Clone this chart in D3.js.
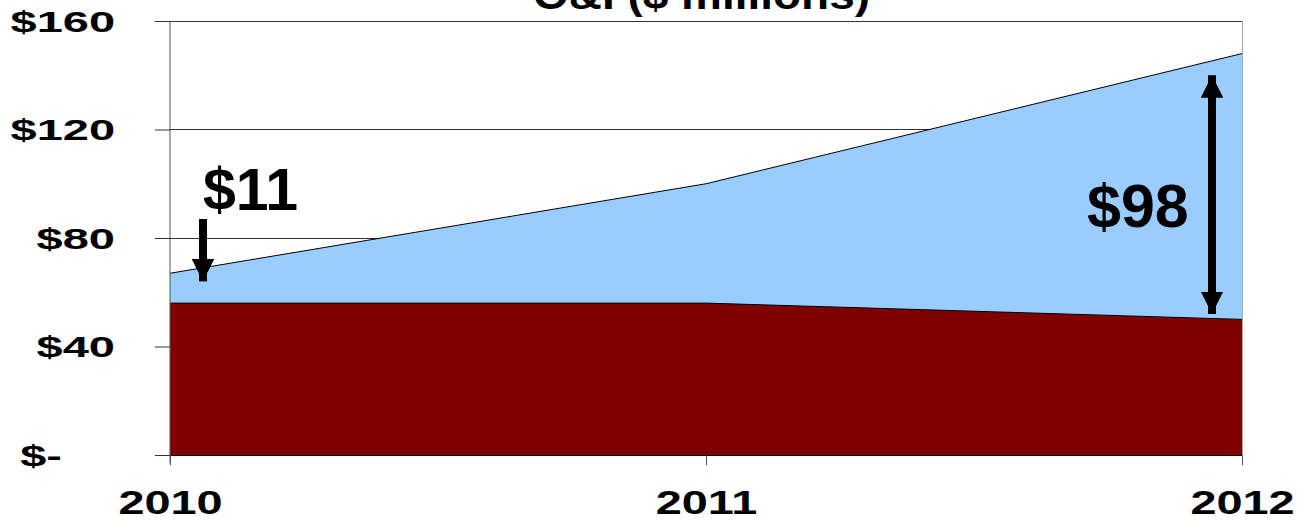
<!DOCTYPE html>
<html>
<head>
<meta charset="utf-8">
<script src="https://cdn.jsdelivr.net/npm/d3@7"></script>
<style>
  html, body { margin: 0; padding: 0; background: #fff; }
  svg { display: block; }
  text { font-family: Arial, "Liberation Sans", sans-serif; font-weight: bold; fill: #000; }
</style>
</head>
<body>
<svg id="chart" width="1297" height="520"></svg>
<script>
// ---- data ----
const title = "O&I ($ millions)";
const years = [2010, 2011, 2012];
const baseSeries = [56, 56, 50];        // maroon
const addedSeries = [11, 44, 98];       // light blue (stacked on top)
const yTicks = [0, 40, 80, 120, 160];
const annotations = [
  { label: "$11", year: 2010, from: 87, to: 64 },   // single arrow
  { label: "$98", year: 2012, from: 140, to: 52 }   // double arrow
];

// ---- layout ----
const plotLeft = 170, plotRight = 1242, plotTop = 21, plotBottom = 455;

const svg = d3.select("#chart");
const x = d3.scalePoint().domain(years).range([plotLeft, plotRight]);
const y = d3.scaleLinear().domain([0, 160]).range([plotBottom, plotTop]);

// gridlines (behind areas)
svg.append("g").selectAll("line")
  .data(yTicks.filter(d => d > 0))
  .join("line")
  .attr("x1", plotLeft).attr("x2", plotRight)
  .attr("y1", d => y(d)).attr("y2", d => y(d))
  .attr("stroke", "#333").attr("stroke-width", 1)
  .attr("shape-rendering", "crispEdges");

// right plot border (light gray)
svg.append("line")
  .attr("x1", plotRight).attr("x2", plotRight).attr("y1", plotTop).attr("y2", plotBottom)
  .attr("stroke", "#aaa").attr("stroke-width", 1).attr("shape-rendering", "crispEdges");

// stacked data
const rows = years.map((yr, i) => ({ year: yr, base: baseSeries[i], total: baseSeries[i] + addedSeries[i] }));

const areaTop = d3.area().x(d => x(d.year)).y0(d => y(d.base)).y1(d => y(d.total));
const areaBase = d3.area().x(d => x(d.year)).y0(y(0)).y1(d => y(d.base));

svg.append("path").datum(rows).attr("d", areaTop).attr("fill", "#99CCFF");
svg.append("path").datum(rows).attr("d", areaBase).attr("fill", "#800000");

svg.append("path").datum(rows)
  .attr("d", d3.line().x(d => x(d.year)).y(d => y(d.total)))
  .attr("fill", "none").attr("stroke", "#000").attr("stroke-width", 1);
svg.append("path").datum(rows)
  .attr("d", d3.line().x(d => x(d.year)).y(d => y(d.base)))
  .attr("fill", "none").attr("stroke", "#000").attr("stroke-width", 1);

// y axis
const yAxis = svg.append("g").attr("transform", `translate(${plotLeft},0)`)
  .call(d3.axisLeft(y).tickValues(yTicks).tickSize(15).tickSizeOuter(0).tickPadding(40)
    .tickFormat(d => d === 0 ? "$-" : "$" + d));
yAxis.select(".domain").attr("stroke", "#555").attr("d", `M0,${plotTop}V${plotBottom + 8}`);
yAxis.selectAll(".tick line").attr("stroke", "#333");
yAxis.selectAll(".tick text")
  .attr("font-size", 29).attr("font-family", "Arial, 'Liberation Sans', sans-serif")
  .attr("font-weight", "bold").attr("fill", "#000")
  .attr("dy", "0.36em")
  .each(function(d) {
    const t = d3.select(this);
    const w = this.getComputedTextLength();
    t.attr("textLength", w * 1.62).attr("lengthAdjust", "spacingAndGlyphs");
    if (d === 0) t.attr("x", -108);
  });

// x axis
const xAxis = svg.append("g").attr("transform", `translate(0,${plotBottom})`)
  .call(d3.axisBottom(x).tickSize(10).tickSizeOuter(0).tickPadding(26).tickFormat(d3.format("d")));
xAxis.select(".domain").attr("stroke", "#000");
xAxis.selectAll(".tick line").attr("stroke", "#555");
xAxis.selectAll(".tick text")
  .attr("font-size", 33).attr("font-family", "Arial, 'Liberation Sans', sans-serif")
  .attr("font-weight", "bold").attr("fill", "#000")
  .attr("dy", "0.71em")
  .each(function() {
    const w = this.getComputedTextLength();
    d3.select(this).attr("textLength", w * 1.42).attr("lengthAdjust", "spacingAndGlyphs");
  });

// title (cut off at top)
const tt = svg.append("text").attr("x", (533 + 870) / 2).attr("y", 9)
  .attr("text-anchor", "middle").attr("font-size", 40).text(title);
tt.attr("textLength", 337).attr("lengthAdjust", "spacingAndGlyphs");

// annotations
const defs = svg.append("defs");
defs.append("marker").attr("id", "head").attr("viewBox", "0 0 10 10")
  .attr("refX", 10).attr("refY", 5).attr("markerWidth", 2.8).attr("markerHeight", 2.8)
  .attr("markerUnits", "strokeWidth").attr("orient", "auto-start-reverse")
  .append("path").attr("d", "M0,0L10,5L0,10Z").attr("fill", "#000");

// $11 single arrow
const a1 = annotations[0];
const a1x = x(a1.year) + 33;
svg.append("line").attr("x1", a1x).attr("x2", a1x)
  .attr("y1", y(a1.from)).attr("y2", y(a1.to))
  .attr("stroke", "#000").attr("stroke-width", 8).attr("marker-end", "url(#head)");
svg.append("text").attr("x", 203).attr("y", 210).attr("font-size", 59).text(a1.label);

// $98 double arrow
const a2 = annotations[1];
const a2x = x(a2.year) - 30;
svg.append("line").attr("x1", a2x).attr("x2", a2x)
  .attr("y1", y(a2.from)).attr("y2", y(a2.to))
  .attr("stroke", "#000").attr("stroke-width", 8)
  .attr("marker-start", "url(#head)").attr("marker-end", "url(#head)");
svg.append("text").attr("x", 1087).attr("y", 227).attr("font-size", 61).text(a2.label);
</script>
</body>
</html>
